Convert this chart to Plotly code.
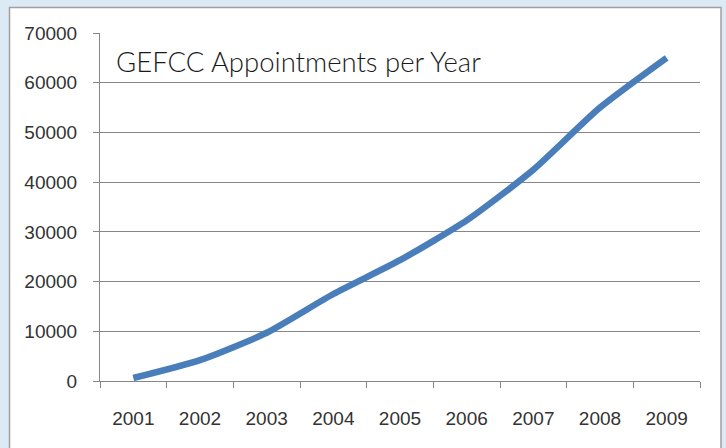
import plotly.graph_objects as go

years = ["2001", "2002", "2003", "2004", "2005", "2006", "2007", "2008", "2009"]
appointments = [600, 4200, 9700, 17500, 24300, 32300, 42500, 55000, 65000]
y_ticks = [0, 10000, 20000, 30000, 40000, 50000, 60000, 70000]
title_text = "GEFCC Appointments per Year"

W, H = 726, 448
L, R, T, B = 100, 700, 33, 381

def px_x(p):
    return (p - L) / (R - L)

def px_y(p):
    return (B - p) / (B - T)

fig = go.Figure()
fig.add_trace(go.Scatter(
    x=years, y=appointments, mode="lines",
    line=dict(color="#4a7ebb", width=6.5, shape="spline", smoothing=0.6),
    hoverinfo="skip", showlegend=False,
))

tick_font = "'Liberation Sans', Arial, sans-serif"
title_font = "Lato, 'Open Sans', sans-serif"

fig.update_layout(
    width=W, height=H,
    margin=dict(l=L, r=W - R, t=T, b=H - B),
    paper_bgcolor="#dbeaf5",
    plot_bgcolor="rgba(0,0,0,0)",
    font=dict(family=tick_font, color="#333333", size=19),
    xaxis=dict(
        type="category", range=[-0.5, 8.5], tickson="boundaries",
        showgrid=False, showline=True, linecolor="#868686", linewidth=1,
        ticks="outside", ticklen=6, tickcolor="#868686",
        tickfont=dict(size=19, color="#333333", family=tick_font), ticklabelstandoff=20,
        zeroline=False, fixedrange=True,
    ),
    yaxis=dict(
        range=[0, 70000], tickvals=y_ticks, ticktext=[str(v) for v in y_ticks],
        showgrid=True, gridcolor="#868686", gridwidth=1,
        showline=True, linecolor="#868686", linewidth=1,
        ticks="outside", ticklen=6, tickcolor="#868686",
        tickfont=dict(size=19, color="#333333", family=tick_font), ticklabelstandoff=12,
        zeroline=False, fixedrange=True,
    ),
    shapes=[dict(
        type="rect", xref="paper", yref="paper",
        x0=px_x(9.5), x1=px_x(721), y0=px_y(452), y1=px_y(7.5),
        fillcolor="white", line=dict(color="#a0a0a0", width=1.5), layer="below",
    )],
    annotations=[dict(
        text=title_text, xref="paper", yref="paper",
        x=px_x(114), y=px_y(61), xanchor="left", yanchor="middle",
        showarrow=False, font=dict(size=27.5, color="#1a1a1a", family=title_font, weight=300),
    )],
)

fig.write_html(
    "out.html",
    config={"displayModeBar": False},
    post_script="document.body.style.margin='0';document.body.style.background='#dbeaf5';",
)
